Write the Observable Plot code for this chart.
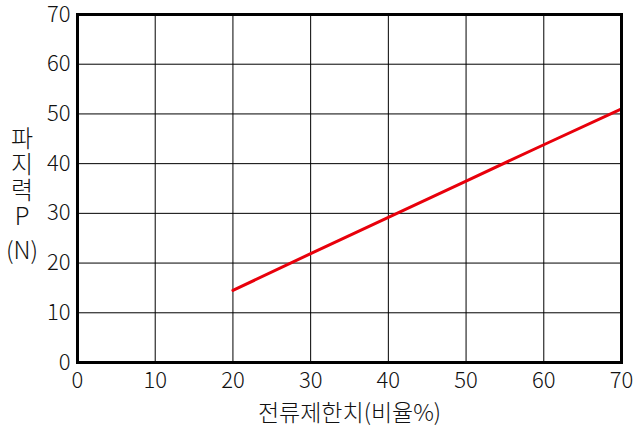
<!DOCTYPE html>
<html><head><meta charset="utf-8">
<script src="https://cdn.jsdelivr.net/npm/d3@7"></script>
<script src="https://cdn.jsdelivr.net/npm/@observablehq/plot@0.6"></script>
<style>
body{margin:0;background:#fff;}
#wrap{position:relative;width:639px;height:429px;font-family:"Noto Sans CJK KR","Noto Sans",sans-serif;}
#ylab{position:absolute;left:0;top:0;width:44px;font-size:24px;font-weight:300;color:#111;text-align:center;z-index:2;}
#ylab div{position:absolute;left:0;width:44px;line-height:1;height:22px;overflow:visible;}
</style></head>
<body><div id="wrap"><div id="ylab"></div></div>
<script>
const currentLimit = [20, 30, 40, 50, 60, 70];
const force = [14.5, 21.9, 29.2, 36.5, 43.8, 51];
const xTicks = [0, 10, 20, 30, 40, 50, 60, 70];
const yTicks = [0, 10, 20, 30, 40, 50, 60, 70];
const xLabel = "전류제한치(비율%)";
const yLabelLines = ["파", "지", "력", "P", "(N)"];
const yLabelTops = [125, 151, 177, 203, 237];

const data = currentLimit.map((x, i) => ({x, y: force[i]}));
const font = '"Noto Sans CJK KR","Noto Sans",sans-serif';

const chart = Plot.plot({
  width: 639, height: 429,
  marginLeft: 77, marginRight: 18, marginTop: 14, marginBottom: 67,
  style: {fontFamily: font, fontSize: "22px", fontWeight: 300, color: "#111", background: "#fff"},
  x: {domain: [0, 70]},
  y: {domain: [0, 70]},
  marks: [
    Plot.gridX(xTicks, {stroke: "#000", strokeOpacity: 1, strokeWidth: 1}),
    Plot.gridY(yTicks, {stroke: "#000", strokeOpacity: 1, strokeWidth: 1}),
    Plot.axisX(xTicks, {tickSize: 0, tickPadding: 10, fontSize: 22, label: xLabel, labelAnchor: "center", labelArrow: "none", labelOffset: 58}),
    Plot.axisY(yTicks, {tickSize: 0, tickPadding: 7, fontSize: 22, label: null}),
    Plot.line(data, {x: "x", y: "y", stroke: "#e8000b", strokeWidth: 3}),
    Plot.frame({stroke: "#000", strokeWidth: 3})
  ]
});
document.getElementById("wrap").appendChild(chart);
chart.style.position = "absolute"; chart.style.left = "0"; chart.style.top = "0";
d3.select(chart).selectAll("[aria-label='x-axis label'] text").style("font-size", "23px");
const yl = document.getElementById("ylab");
yLabelLines.forEach((t, i) => {
  const d = document.createElement("div");
  d.textContent = t; d.style.top = yLabelTops[i] + "px";
  yl.appendChild(d);
});
</script></body></html>
